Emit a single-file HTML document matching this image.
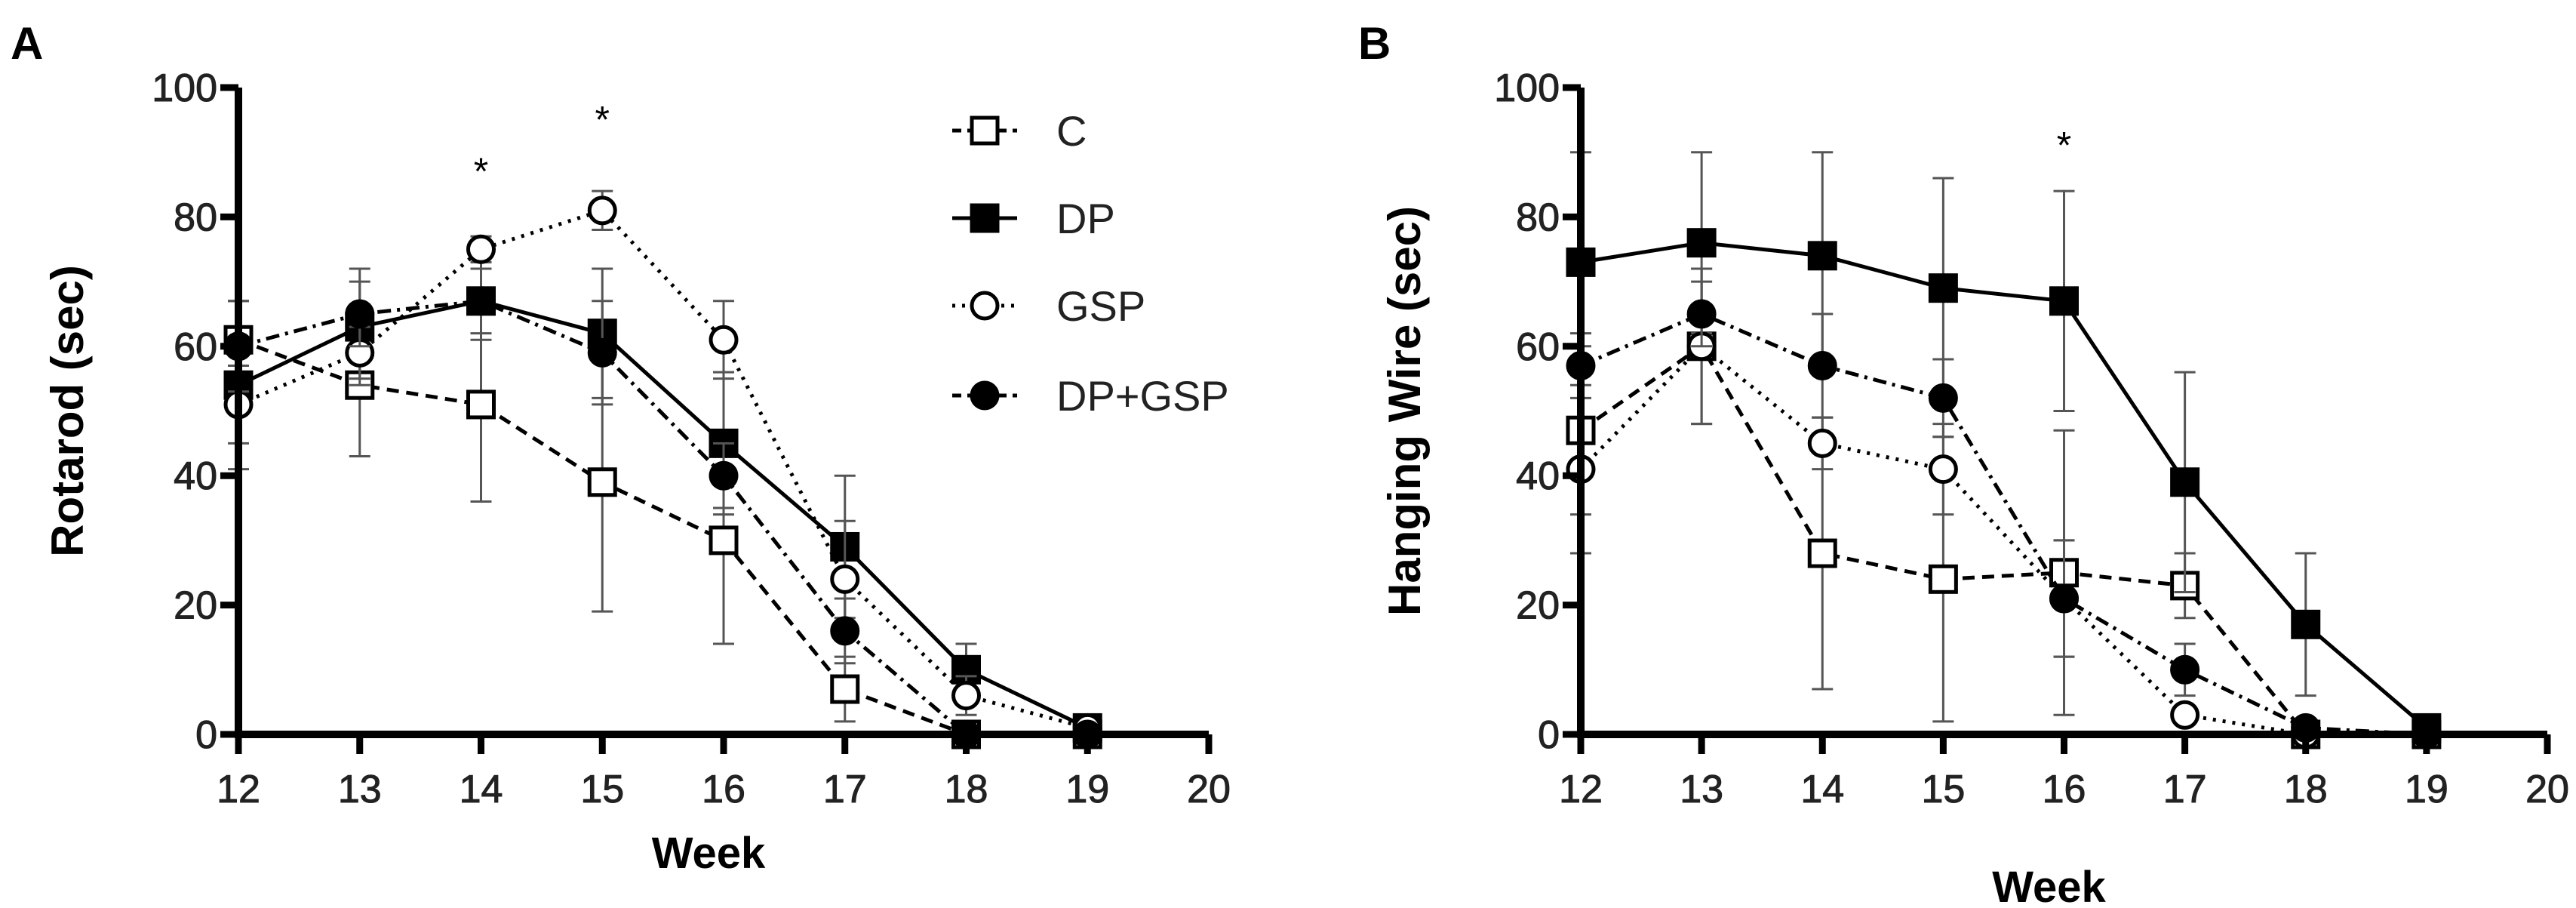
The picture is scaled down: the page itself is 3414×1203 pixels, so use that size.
<!DOCTYPE html>
<html><head><meta charset="utf-8"><style>
html,body{margin:0;padding:0;background:#fff;}
svg{display:block;font-family:"Liberation Sans",Arial,sans-serif;}
</style></head><body>
<svg id="fig" width="3414" height="1203" viewBox="0 0 3414 1203" xmlns="http://www.w3.org/2000/svg"></svg>
<script>
const weeks = [12,13,14,15,16,17,18,19];
const xTicks = [12,13,14,15,16,17,18,19,20];
const yTicks = [0,20,40,60,80,100];
const seriesNames = ["C","DP","GSP","DP+GSP"];
// Panel A: Rotarod
const aC = [61,54,51,39,30,7,0,0];
const aDP = [54,63,67,62,45,29,10,1];
const aGSP = [51,59,75,81,61,24,6,1];
const aDPGSP = [60,65,67,59,40,16,0,0];
const aCerr = [6,11,15,20,16,5,1,0];
const aDPerr = [13,9,6,10,11,11,4,1];
const aGSPerr = [6,4,2,3,6,9,3,1];
const aDPGSPerr = [7,5,5,8,5,5,1,0];
const aStars = [14,15];
const aStarY = [88,96];
// Panel B: Hanging wire
const bC = [47,60,28,24,25,23,0,0];
const bDP = [73,76,74,69,67,39,17,1];
const bGSP = [41,60,45,41,21,3,0,0];
const bDPGSP = [57,65,57,52,21,10,1,0];
const bCerr = [13,12,21,22,22,5,0,0];
const bDPerr = [17,14,16,17,17,17,11,1];
const bGSPerr = [13,12,4,7,9,1,0,0];
const bDPGSPerr = [5,5,8,6,9,4,1,0];
const bStars = [16];
const bStarY = [92];

const NS="http://www.w3.org/2000/svg";
const svg=document.getElementById('fig');
function el(t,a,p){const e=document.createElementNS(NS,t);for(const k in a)e.setAttribute(k,a[k]);(p||svg).appendChild(e);return e;}
const styles=[
 {dash:"16,10",fill:"#fff",shape:"sq"},
 {dash:"none",fill:"#000",shape:"sq"},
 {dash:"4,9",fill:"#fff",shape:"ci"},
 {dash:"18,8,4,8",fill:"#000",shape:"ci"}
];
function marker(g,s,x,y,r){
  let m;
  if(s.shape==="sq") m=el('rect',{x:x-r,y:y-r,width:2*r,height:2*r,fill:s.fill,stroke:'#000','stroke-width':5},g);
  else m=el('circle',{cx:x,cy:y,r:r,fill:s.fill,stroke:'#000','stroke-width':5},g);
  return m;
}
function panel(opt){
  const g=el('g',{});
  
  
  const X=v=>opt.x0+(v-12)/(20-12)*(opt.x1-opt.x0);
  const Y=v=>opt.y0-(v/100)*(opt.y0-opt.y1);
  opt.data.forEach((vals,si)=>{
    const s=styles[si];const sg=el('g',{},g);
    
    
    vals.forEach((v,i)=>{const e=opt.err[si][i];if(e>0){const x=X(weeks[i]);
      el('line',{x1:x,x2:x,y1:Y(v-e),y2:Y(v+e),stroke:'#555','stroke-width':3},sg);
      el('line',{x1:x-14,x2:x+14,y1:Y(v-e),y2:Y(v-e),stroke:'#555','stroke-width':3},sg);
      el('line',{x1:x-14,x2:x+14,y1:Y(v+e),y2:Y(v+e),stroke:'#555','stroke-width':3},sg);}});
    const pts=vals.map((v,i)=>X(weeks[i])+','+Y(v)).join(' ');
    el('polyline',{points:pts,fill:'none',stroke:'#000','stroke-width':5,'stroke-dasharray':s.dash},sg);
    vals.forEach((v,i)=>{const m=marker(sg,s,X(weeks[i]),Y(v),s.shape==="sq"?17:17);
      
      });
  });
  const ax=el('path',{d:`M${opt.x0},${opt.y1}V${opt.y0}H${opt.x1}`,fill:'none',stroke:'#000','stroke-width':10},g);
  
  yTicks.forEach(t=>{el('line',{x1:opt.x0-24,x2:opt.x0,y1:Y(t),y2:Y(t),stroke:'#000','stroke-width':9},g);
    const tx=el('text',{x:opt.x0-28,y:Y(t)+18,'text-anchor':'end','font-size':52,fill:'#222','stroke':'#222','stroke-width':1},g);tx.textContent=t;
    });
  xTicks.forEach(t=>{el('line',{x1:X(t),x2:X(t),y1:opt.y0,y2:opt.y0+26,stroke:'#000','stroke-width':9},g);
    const tx=el('text',{x:X(t),y:opt.y0+90,'text-anchor':'middle','font-size':52,fill:'#222','stroke':'#222','stroke-width':1},g);tx.textContent=t;
    });
  const xt=el('text',{x:(opt.x0+opt.x1)/2-20,y:opt.xtY,'text-anchor':'middle','font-size':58,'font-weight':'bold'},g);xt.textContent='Week';
  
  const yt=el('text',{x:0,y:0,transform:`translate(${opt.ytX},${(opt.y0+opt.y1)/2}) rotate(-90)`,'text-anchor':'middle','font-size':60,'font-weight':'bold'},g);yt.textContent=opt.ytitle;
  
  opt.stars.forEach((w,i)=>{const st=el('text',{x:X(w),y:Y(opt.starY[i])+25,'text-anchor':'middle','font-size':50},g);st.textContent='*';
    });
  const lb=el('text',{x:opt.lbX,y:78,'font-size':60,'font-weight':'bold'},g);lb.textContent=opt.label;
  
}
panel({name:'panel-a-rotarod',x0:316,x1:1602,y0:973,y1:116,data:[aC,aDP,aGSP,aDPGSP],err:[aCerr,aDPerr,aGSPerr,aDPGSPerr],
  stars:aStars,starY:aStarY,ytitle:'Rotarod (sec)',ytX:110,xtY:1150,label:'A',lbX:14});
panel({name:'panel-b-hanging-wire',x0:2095,x1:3376,y0:973,y1:116,data:[bC,bDP,bGSP,bDPGSP],err:[bCerr,bDPerr,bGSPerr,bDPGSPerr],
  stars:bStars,starY:bStarY,ytitle:'Hanging Wire (sec)',ytX:1882,xtY:1195,label:'B',lbX:1800});
const lg=el('g',{});


const legY=[173,289,405,524];
seriesNames.forEach((n,i)=>{const s=styles[i];const eg=el('g',{},lg);
  
  
  el('line',{x1:1262,x2:1348,y1:legY[i],y2:legY[i],stroke:'#000','stroke-width':5,'stroke-dasharray':s.dash==="none"?"none":(i===2?"4,9":"12,8")},eg);
  marker(eg,s,1305,legY[i],17);
  const t=el('text',{x:1400,y:legY[i]+20,'font-size':56,fill:'#222'},eg);t.textContent=n;});
</script>
</body></html>
